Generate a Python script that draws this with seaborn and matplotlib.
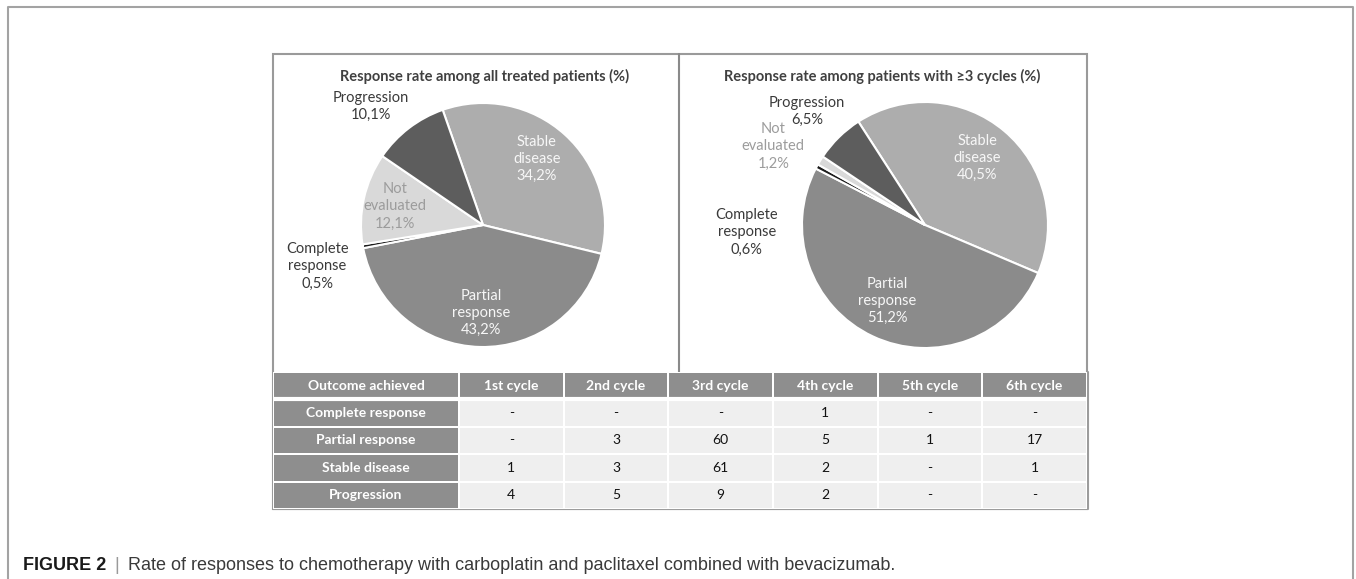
import numpy as np
import pandas as pd
import seaborn as sns
import matplotlib.pyplot as plt
from matplotlib.colors import ListedColormap
from matplotlib.patches import Rectangle

# pie data (clockwise order as drawn)
outcomes = ["Stable disease", "Partial response", "Complete response", "Not evaluated", "Progression"]
outcome_lines = ["Stable\ndisease", "Partial\nresponse", "Complete\nresponse", "Not\nevaluated", "Progression"]
pct_all = [34.2, 43.2, 0.5, 12.1, 10.1]
pct_3cycles = [40.5, 51.2, 0.6, 1.2, 6.5]

# table data (NaN = "-")
cycles = ["1st cycle", "2nd cycle", "3rd cycle", "4th cycle", "5th cycle", "6th cycle"]
table_rows = ["Complete response", "Partial response", "Stable disease", "Progression"]
complete_resp = [np.nan, np.nan, np.nan, 1, np.nan, np.nan]
partial_resp = [np.nan, 3, 60, 5, 1, 17]
stable_dis = [1, 3, 61, 2, np.nan, 1]
progression = [4, 5, 9, 2, np.nan, np.nan]

W, H = 1356, 579
sns.set_theme(style="white")
plt.rcParams["font.family"] = ["Lato", "DejaVu Sans"]

wedge_colors = ["#adadad", "#8b8b8b", "#1c1c1c", "#d9d9d9", "#5d5d5d"]
label_colors = ["#f7f7f7", "#f7f7f7", "#3a3a3a", "#9c9c9c", "#3a3a3a"]

fig = plt.figure(figsize=(W / 100, H / 100), dpi=100)


def px_axes(left, top, width, height):
    return fig.add_axes([left / W, 1 - (top + height) / H, width / W, height / H])


# background axes in pixel coordinates for frames and text
bg = fig.add_axes([0, 0, 1, 1])
bg.set_xlim(0, W)
bg.set_ylim(H, 0)
bg.axis("off")
bg.plot([8, 8, 1353, 1353], [H + 5, 7, 7, H + 5], color="#a3a3a3", lw=1.5)
bg.add_patch(Rectangle((272.5, 54), 814.5, 455, fill=False, ec="#9a9a9a", lw=1.5))
bg.plot([679, 679], [54, 372], color="#8a8a8a", lw=1.5)

bg.text(485, 76, "Response rate among all treated patients (%)", ha="center", va="center",
        fontsize=10.5, fontweight="bold", color="#404040")
bg.text(882, 76, "Response rate among patients with \u22653 cycles (%)", ha="center", va="center",
        fontsize=10.5, fontweight="bold", color="#404040")

cap_font = ["Liberation Sans", "DejaVu Sans"]
bg.text(23, 565, "FIGURE 2", ha="left", va="center", fontsize=13, fontweight="bold",
        color="#1a1a1a", family=cap_font)
bg.text(114, 565, "|", ha="left", va="center", fontsize=13, color="#9a9a9a", family=cap_font)
bg.text(128, 565, "Rate of responses to chemotherapy with carboplatin and paclitaxel combined with bevacizumab.",
        ha="left", va="center", fontsize=13, color="#3a3a3a", family=cap_font)


def draw_pie(ax, values, start, dists, offsets):
    wedges, _ = ax.pie(values, colors=wedge_colors, startangle=start, counterclock=False,
                       wedgeprops=dict(edgecolor="white", linewidth=1.5))
    ax.set_xlim(-1, 1)
    ax.set_ylim(-1, 1)
    for i, w in enumerate(wedges):
        a = np.deg2rad((w.theta1 + w.theta2) / 2 + offsets[i])
        txt = outcome_lines[i] + "\n" + f"{values[i]:.1f}%".replace(".", ",")
        ax.text(dists[i] * np.cos(a), dists[i] * np.sin(a), txt, ha="center", va="center",
                fontsize=10.5, color=label_colors[i], linespacing=1.3, clip_on=False)


ax1 = px_axes(361, 103, 244, 244)
draw_pie(ax1, pct_all, 109.3, [0.70, 0.72, 1.40, 0.74, 1.34], [3, 0, 4, 0.7, 6])
ax2 = px_axes(802, 102, 246, 246)
draw_pie(ax2, pct_3cycles, 122.8, [0.69, 0.69, 1.45, 1.39, 1.33], [2.3, -1.4, 30.8, 4.2, 1.6])

# table: first column + data block, both seaborn heatmaps
body = pd.DataFrame([complete_resp, partial_resp, stable_dis, progression], columns=cycles)
annot_body = [list(cycles)] + [["-" if np.isnan(v) else str(int(v)) for v in row] for row in body.values]
kind_body = np.ones((5, 6))
kind_body[0, :] = 0
annot_first = [["Outcome achieved"]] + [[r] for r in table_rows]
kind_first = np.zeros((5, 1))

cmap = ListedColormap(["#8e8e8e", "#efefef"])
ttop, theight = 372, 137
axf = px_axes(273, ttop, 186, theight)
sns.heatmap(kind_first, ax=axf, cmap=cmap, vmin=0, vmax=1, annot=np.array(annot_first), fmt="",
            cbar=False, linewidths=1.2, linecolor="white", xticklabels=False, yticklabels=False,
            annot_kws=dict(fontsize=10, fontweight="bold", color="white"))
axb = px_axes(459, ttop, 628, theight)
sns.heatmap(kind_body, ax=axb, cmap=cmap, vmin=0, vmax=1, annot=np.array(annot_body), fmt="",
            cbar=False, linewidths=1.2, linecolor="white", xticklabels=False, yticklabels=False,
            annot_kws=dict(fontsize=10, color="#111111"))
# header row text is white and bold
for t in axb.texts[:6]:
    t.set_color("white")
    t.set_fontweight("bold")
for t in axf.texts:
    t.set_color("white")
for ax in (axf, axb):
    ax.axhline(1, color="white", lw=3)
bg.plot([273, 1087.5, 1087.5], [509, 509, 372], color="#9c9c9c", lw=1.5, zorder=5)

fig.savefig("out.png", dpi=100)
